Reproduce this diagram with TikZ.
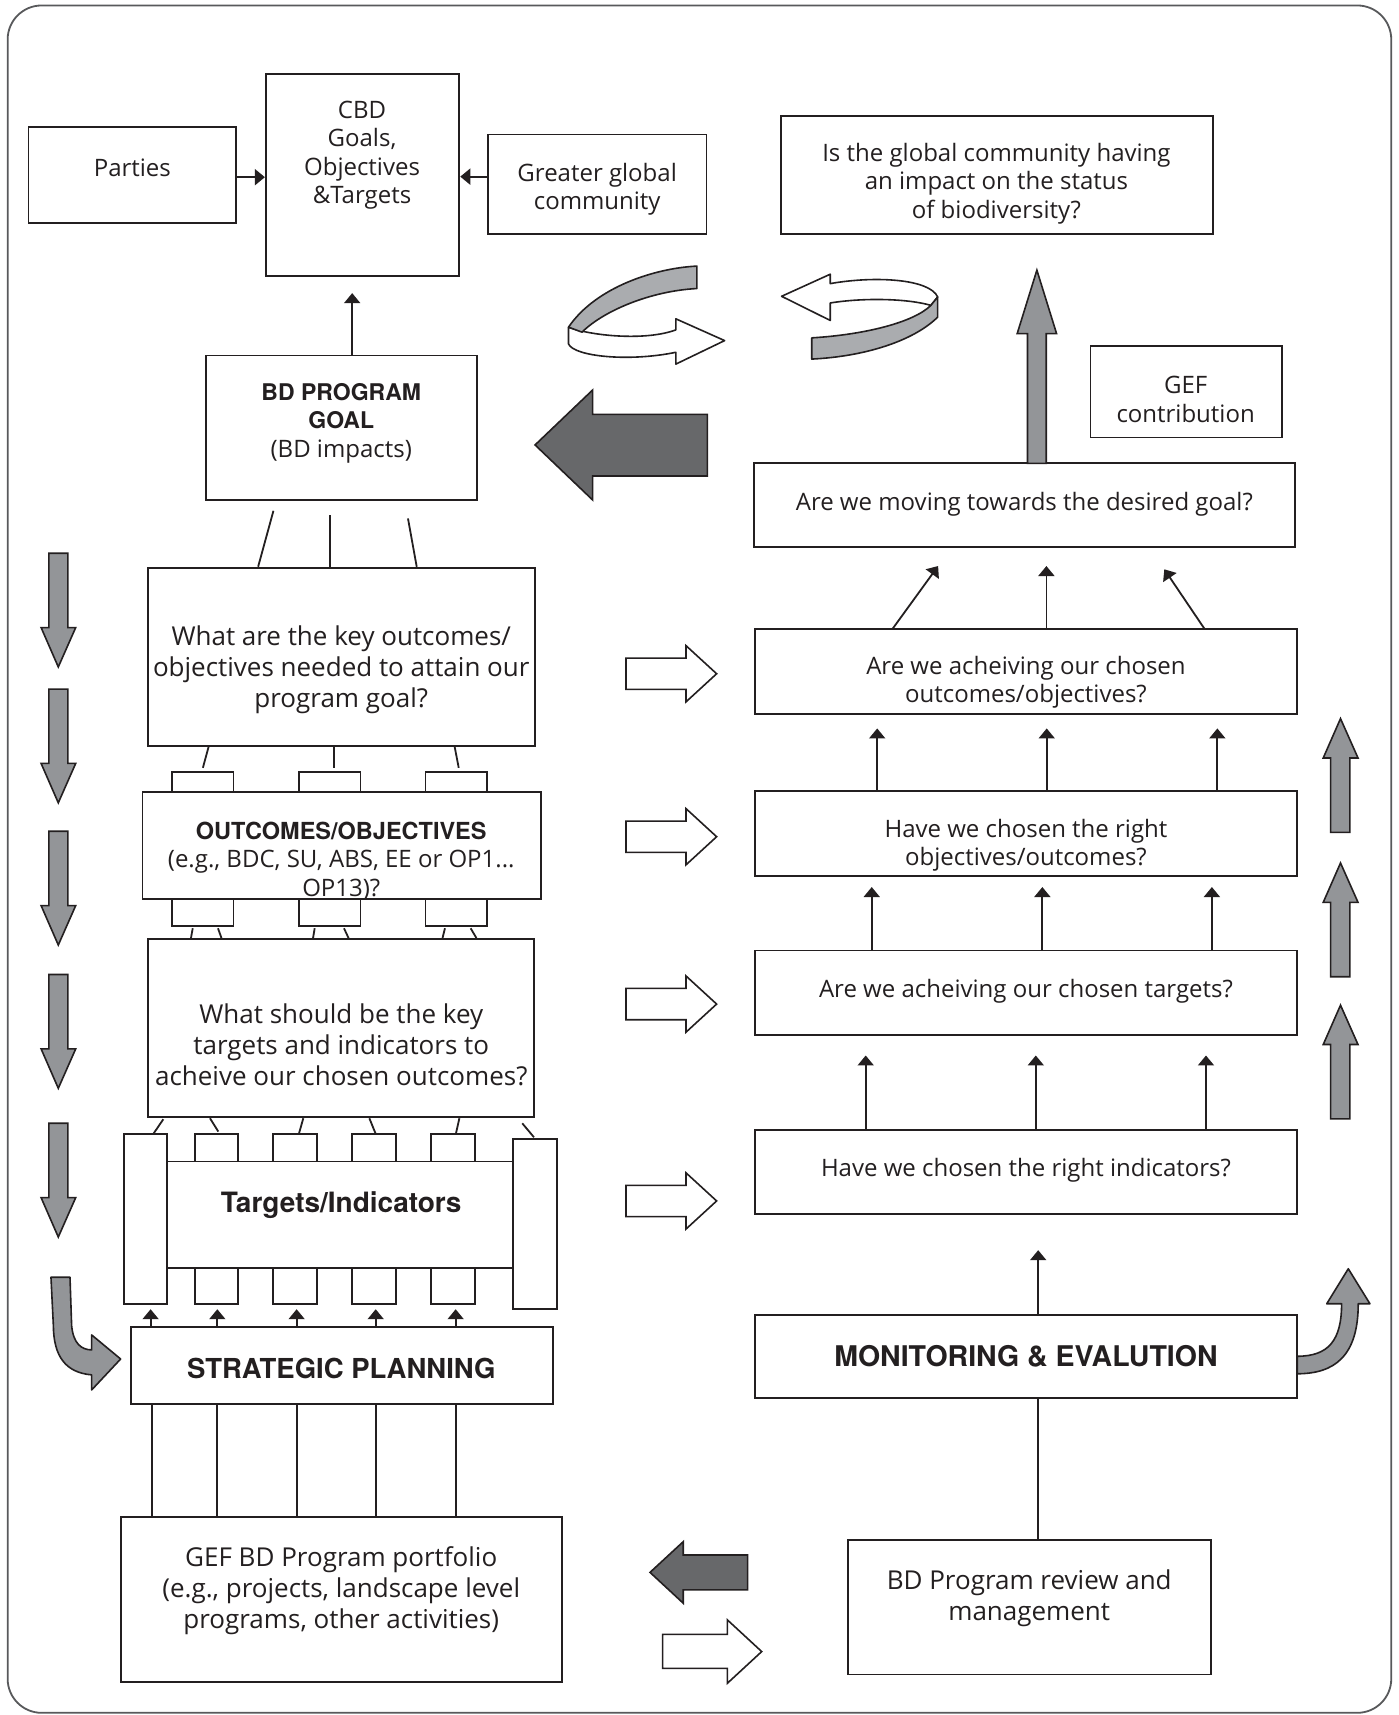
\documentclass[tikz,border=0pt]{standalone}
\usepackage{fontspec}
\setmainfont{Open Sans}
\newfontfamily\hvfam{TeX Gyre Heros}
\newcommand\hvb{\hvfam\bfseries}
\usetikzlibrary{arrows.meta,fit}
\definecolor{darkarr}{HTML}{67686A}
\definecolor{midarr}{HTML}{939598}
\definecolor{curlgray}{HTML}{AAACAF}
\definecolor{framecol}{HTML}{58595B}
\definecolor{inkcol}{HTML}{231F20}
\tikzset{
  box/.style={draw=inkcol, line width=1.8pt, inner sep=0pt, fill=white},
  txt/.style={align=center, inner sep=0pt, text=inkcol, font=\fontsize{24}{28.5}\selectfont},
  txtL/.style={align=center, inner sep=0pt, text=inkcol, font=\fontsize{26}{31}\selectfont},
  bld/.style={align=center, inner sep=0pt, text=inkcol, font=\hvb\fontsize{28}{30}\selectfont},
  arr/.style={draw=inkcol, line width=1.8pt, -{Triangle[width=16pt,length=10pt]}},
  conn/.style={draw=inkcol, line width=1.8pt},
  blk/.style={draw=inkcol, line width=1.6pt, line join=miter},
}
\begin{document}
\begin{tikzpicture}[x=1.0938pt,y=-1.0938pt]
\useasboundingbox (0,0) rectangle (1279,1568);
\fill[white] (0,0) rectangle (1279,1568);
\draw[line width=1.8pt, draw=framecol, rounded corners=34pt] (7,5) rectangle (1272,1566);

% ---------- boxes ----------
\node[box, fit={(26,116)(216,204)}] (parties) {};
\node[box, fit={(243,68)(420,252)}] (cbd) {};
\node[box, fit={(446,123)(646,214)}] (greater) {};
\node[box, fit={(714,106)(1109,214)}] (isglobal) {};
\node[box, fit={(997,316)(1172,400)}] (gefc) {};
\node[box, fit={(188,325)(436,457)}] (goal) {};
\node[box, fit={(689,423.6)(1184,500)}] (moving) {};
\node[box, fit={(135.5,519)(489,682)}] (keyq) {};
\node[box, fit={(690.5,575.4)(1186,653)}] (achobj) {};
\node[box, fit={(690.5,723)(1186,801)}] (chosobj) {};
\node[box, fit={(690.5,869)(1186,946)}] (achtgt) {};
\node[box, fit={(690.5,1033)(1186,1110)}] (ind) {};
\node[box, fit={(690.5,1202)(1186,1278.4)}] (me) {};
\node[box, fit={(775,1408)(1107,1531)}] (review) {};
\node[box, fit={(110.6,1386.6)(513.5,1537.5)}] (portfolio) {};
\node[box, fit={(119.5,1213)(505.3,1284)}] (strat) {};

\foreach \a/\b [count=\i] in {157.6/213.4, 273.2/329.6, 389.1/444.9} {
  \node[box, fit={(\a,705.5)(\b,724)}] (su\i) {};
  \node[box, fit={(\a,822)(\b,846.6)}] (sl\i) {};
}
\node[box, fit={(130.3,724)(494.8,822)}] (outc) {};
\node[box, fit={(135.5,858.5)(488.5,1021)}] (whatq) {};

\foreach \a/\b [count=\i] in {178.3/217.9, 249.9/290.1, 322.1/362, 394/434.3} {
  \node[box, fit={(\a,1036.7)(\b,1062)}] (tu\i) {};
  \node[box, fit={(\a,1159)(\b,1192.2)}] (tl\i) {};
}
\node[box, fit={(113.4,1036.7)(153,1192.2)}] (tallL) {};
\node[box, fit={(469.3,1041.3)(509,1196.8)}] (tallR) {};
\node[box, fit={(153,1062)(469.3,1159)}] (tgt) {};

% ---------- texts ----------
\node[txt] (tparties) at (121,153) {Parties};
\node[txt] (tcbd) at (331,142) {CBD\\Goals,\\Objectives\\\&Targets};
\node[txt] (tgreater) at (546,173) {Greater global\\community};
\node[txt] (tisglobal) at (911,168) {Is the global community having\\an impact on the status\\of biodiversity?};
\node[txt] (tgefc) at (1084,365) {GEF\\contribution};
\node[txt] (tgoal) at (312,387) {{\hvb\fontsize{23}{28.5}\selectfont BD PROGRAM}\\{\hvb\fontsize{23}{28.5}\selectfont GOAL}\\(BD impacts)};
\node[txt] (tmoving) at (936.5,461) {Are we moving towards the desired goal?};
\node[txtL] (tkeyq) at (312,612) {What are the key outcomes/\\objectives needed to attain our\\program goal?};
\node[txt] (tachobj) at (938,624) {Are we acheiving our chosen\\outcomes/objectives?};
\node[txt] (toutc) at (312,787) {{\hvb\fontsize{23.5}{28.5}\selectfont OUTCOMES/OBJECTIVES}\\(e.g., BDC, SU, ABS, EE or OP1...\\OP13)?};
\node[txt] (tchosobj) at (938,773) {Have we chosen the right\\objectives/outcomes?};
\node[txtL] (twhatq) at (312,955) {What should be the key\\targets and indicators to\\acheive our chosen outcomes?};
\node[txt] (tachtgt) at (938,906) {Are we acheiving our chosen targets?};
\node[bld] (ttgt) at (312,1102) {Targets/Indicators};
\node[txt] (tind) at (938,1070) {Have we chosen the right indicators?};
\node[bld, font=\hvb\fontsize{27.5}{30}\selectfont] (tstrat) at (312,1251) {STRATEGIC PLANNING};
\node[bld, font=\hvb\fontsize{28.5}{30}\selectfont] (tme) at (938,1240) {MONITORING \& EVALUTION};
\node[txtL] (tportfolio) at (312,1454) {GEF BD Program portfolio\\(e.g., projects, landscape level\\programs, other activities)};
\node[txtL] (treview) at (941,1461) {BD Program review and\\management};

% ---------- connectors ----------
\draw[arr] (parties.east |- 0,162) -- (cbd.west |- 0,162);
\draw[arr] (greater.west |- 0,161.5) -- (cbd.east |- 0,161.5);
\draw[arr] (goal.north -| 322,0) -- (322,268);

\draw[conn] (250,467) -- (keyq.north -| 236,0);
\draw[conn] (302,471) -- (keyq.north -| 302,0);
\draw[conn] (373,474) -- (keyq.north -| 381,0);

\draw[conn] (keyq.south -| 190.7,0) -- (185.5,702);
\draw[conn] (keyq.south -| 305.7,0) -- (305.7,702);
\draw[conn] (keyq.south -| 415.7,0) -- (419.4,702);

\foreach \p/\q in {176.2/174.6, 199.3/202.5, 287.7/286.2, 314.5/318.7, 406.8/404.6, 430.3/435.6}
  \draw[conn] (\p,848.7) -- (whatq.north -| \q,0);

\draw[conn] (149.3,1023.3) -- (140.2,1036.7);
\draw[conn] (192,1022.4) -- (199.6,1034.6);
\draw[conn] (277.3,1022.4) -- (273.4,1036.2);
\draw[conn] (337.7,1022.4) -- (343.5,1036.7);
\draw[conn] (420,1022.4) -- (416.9,1036.2);
\draw[conn] (477.5,1027) -- (488.2,1039.8);

\foreach \x in {137.7,198.7,271.2,343.5,416.6}
  \draw[arr] (strat.north -| \x,0) -- (\x,1197);
\foreach \x in {138.7,198.7,271.2,343.7,416.9}
  \draw[conn] (strat.south -| \x,0) -- (portfolio.north -| \x,0);

\draw[arr] (achobj.north -| 816.3,0) -- (857.7,517.5);
\draw[arr] (achobj.north -| 956.7,0) -- (956.7,517.5);
\draw[arr] (achobj.north -| 1101,0) -- (1064.5,520.5);
\foreach \x in {802,957,1113}
  \draw[arr] (chosobj.north -| \x,0) -- (\x,666);
\foreach \x in {797,953,1108}
  \draw[arr] (achtgt.north -| \x,0) -- (\x,811);
\foreach \x in {791.5,947,1102.6}
  \draw[arr] (ind.north -| \x,0) -- (\x,965);
\draw[arr] (me.north -| 949.2,0) -- (949.2,1143);
\draw[conn] (me.south -| 949.2,0) -- (review.north -| 949.2,0);

% ---------- block arrows ----------
\draw[blk, fill=darkarr] (489.2,406.8) -- (541.8,356.6) -- (541.8,378.8) -- (646.7,378.8) -- (646.7,435.2) -- (541.8,435.2) -- (541.8,457.1) -- cycle;
\draw[blk, fill=midarr] (939.4,423.6) -- (939.4,305) -- (930,305) -- (948,247) -- (966,305) -- (956.6,305) -- (956.6,423.6) -- cycle;

\foreach \y in {505.8,630,760,891,1027}
  \draw[blk, fill=midarr] (44.7,\y) -- (62,\y) -- (62,\y+68) -- (69.2,\y+68) -- (53.3,\y+104) -- (37.6,\y+68) -- (44.7,\y+68) -- cycle;

\foreach \t in {657,789,919}
  \draw[blk, fill=midarr] (1216.6,\t+104) -- (1216.6,\t+36) -- (1209.8,\t+36) -- (1225.6,\t) -- (1241.6,\t+36) -- (1234.2,\t+36) -- (1234.2,\t+104) -- cycle;

\foreach \y in {616,765,918,1098}
  \draw[blk, fill=white] (572.3,\y-14.3) -- (627.2,\y-14.3) -- (627.2,\y-25.7) -- (655.2,\y) -- (627.2,\y+25.7) -- (627.2,\y+14.3) -- (572.3,\y+14.3) -- cycle;

\draw[blk, fill=darkarr] (594.3,1437.6) -- (624.7,1409.5) -- (624.7,1421.7) -- (683.6,1421.7) -- (683.6,1453.6) -- (624.7,1453.6) -- (624.7,1465.8) -- cycle;
\draw[blk, fill=white] (605.8,1494.2) -- (665,1494.2) -- (665,1481) -- (696.4,1510) -- (665,1539) -- (665,1525.3) -- (605.8,1525.3) -- cycle;

% curved arrows
\draw[blk, fill=midarr, line join=round] (46.6,1167.8) -- (64,1167.8) -- (65.5,1212) .. controls (67,1228) and (74,1234) .. (83.8,1234.2) -- (83.8,1220.5) -- (110.3,1242.5) -- (83.8,1270.8) -- (83.8,1257) .. controls (60,1255) and (49,1240) .. (48.8,1212) -- cycle;
\draw[blk, fill=midarr, line join=round] (1186,1240) .. controls (1215,1240) and (1226.6,1225) .. (1226.6,1192) -- (1213,1192) -- (1232.7,1160) -- (1252.5,1192) -- (1241.8,1192) .. controls (1241.8,1240) and (1220,1256) .. (1186,1256) -- cycle;

% 3D curls
\draw[blk, fill=white, line join=round] (519.8,299.1) .. controls (540,307) and (590,312) .. (617.9,301.6) -- (617.9,291.5) -- (662.5,311.4) -- (617.9,332.9) -- (617.9,322.1) .. controls (575,331) and (525,326) .. (519.8,314.5) -- cycle;
\draw[blk, fill=curlgray, line join=round] (637.2,243.3) .. controls (600,245) and (545,262) .. (519.8,299.1) -- (532.1,303.7) .. controls (552,284) and (595,266) .. (637.2,263.8) -- cycle;

\draw[blk, fill=white, line join=round] (714.6,270.9) -- (759.1,250.7) -- (759.1,259.3) .. controls (800,252) and (850,255) .. (857.3,271.5) -- (851.1,279.2) .. controls (830,273) and (790,272) .. (759.1,277) -- (759.1,293) -- cycle;
\draw[blk, fill=curlgray, line join=round] (857.3,271.5) -- (857.3,289.9) .. controls (835,312) and (790,326) .. (742.2,328.3) -- (742.2,308.9) .. controls (790,306) and (835,295) .. (851.1,279.2) -- cycle;
\end{tikzpicture}
\end{document}
